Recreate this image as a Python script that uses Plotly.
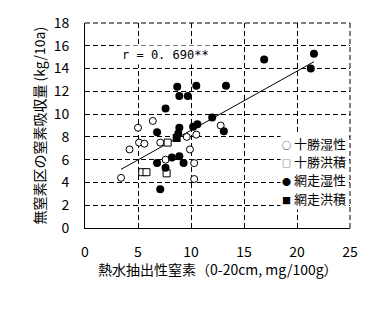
import plotly.graph_objects as go

# 十勝湿性 (open circles)
tk_wet_x = [3.4, 4.2, 5.0, 5.1, 5.6, 6.4, 7.1, 7.6, 9.6, 9.9, 10.3, 10.3, 10.5, 12.8]
tk_wet_y = [4.4, 6.9, 8.8, 7.5, 7.4, 9.4, 7.5, 6.0, 8.0, 6.9, 5.7, 4.3, 8.2, 9.0]
# 十勝洪積 (open squares)
tk_dil_x = [5.4, 5.8, 7.7, 7.8]
tk_dil_y = [4.9, 4.9, 4.8, 7.5]
# 網走湿性 (filled circles)
ab_wet_x = [7.1, 6.8, 7.6, 8.2, 8.9, 9.3, 6.8, 7.6, 8.9, 8.8, 10.2, 10.6, 12.0, 13.1,
            8.7, 8.9, 9.7, 10.5, 13.3, 16.9, 21.6, 21.3]
ab_wet_y = [3.4, 5.7, 5.3, 6.2, 6.3, 5.7, 8.4, 10.5, 8.8, 8.3, 8.9, 9.1, 9.7, 8.5,
            12.4, 11.6, 11.6, 12.5, 12.5, 14.8, 15.3, 14.0]
# 網走洪積 (filled squares)
ab_dil_x = [8.65]
ab_dil_y = [7.9]
# regression line end points
line_x = [3.4, 21.6]
line_y = [5.15, 14.6]

x_ticks = [0, 5, 10, 15, 20, 25]
y_ticks = [0, 2, 4, 6, 8, 10, 12, 14, 16, 18]

FONT = "Noto Sans CJK JP"

fig = go.Figure()
fig.add_trace(go.Scatter(x=line_x, y=line_y, mode="lines",
                         line=dict(color="black", width=1), showlegend=False))
fig.add_trace(go.Scatter(x=tk_wet_x, y=tk_wet_y, mode="markers", name="十勝湿性",
                         marker=dict(symbol="circle", size=7, color="white",
                                     line=dict(color="black", width=1))))
fig.add_trace(go.Scatter(x=tk_dil_x, y=tk_dil_y, mode="markers", name="十勝洪積",
                         marker=dict(symbol="square", size=7, color="white",
                                     line=dict(color="black", width=1))))
fig.add_trace(go.Scatter(x=ab_wet_x, y=ab_wet_y, mode="markers", name="網走湿性",
                         marker=dict(symbol="circle", size=8, color="black",
                                     line=dict(color="black", width=0))))
fig.add_trace(go.Scatter(x=ab_dil_x, y=ab_dil_y, mode="markers", name="網走洪積",
                         marker=dict(symbol="square", size=8, color="black",
                                     line=dict(color="black", width=0))))

# legend as text
legend_sym = ["○", "□", "●", "■"]
legend_names = ["十勝湿性", "十勝洪積", "網走湿性", "網走洪積"]
legend_y = [7.45, 5.83, 4.22, 2.61]
for s, t, yy in zip(legend_sym, legend_names, legend_y):
    fig.add_annotation(x=18.4, y=yy, xref="x", yref="y",
                       text="<span style='font-size:9px'>" + s + "</span> " + t,
                       showarrow=False,
                       xanchor="left", yanchor="middle", bgcolor="white", borderpad=1,
                       font=dict(family=FONT, size=13, color="black"))

fig.add_annotation(x=7.6, y=15.2, xref="x", yref="y", text="r = 0. 690**", showarrow=False,
                   xanchor="center", yanchor="middle", bgcolor="white", borderpad=2,
                   font=dict(family="DejaVu Sans Mono", size=12, color="black"))

# axis titles
fig.add_annotation(x=-0.177, y=0.5, xref="paper", yref="paper",
                   text="無窒素区の窒素吸収量 (kg/10a)", textangle=-90, showarrow=False,
                   xanchor="center", yanchor="middle",
                   font=dict(family=FONT, size=14, color="black"))
fig.add_annotation(x=0.5, y=-0.198, xref="paper", yref="paper",
                   text="熱水抽出性窒素（0-20cm, mg/100g）", showarrow=False,
                   xanchor="center", yanchor="middle",
                   font=dict(family=FONT, size=14, color="black"))

# dashed top and right borders
fig.add_shape(type="line", xref="paper", yref="paper", x0=0, x1=1, y0=1, y1=1,
              line=dict(color="black", width=1, dash="5px,3px"))
fig.add_shape(type="line", xref="paper", yref="paper", x0=1, x1=1, y0=0, y1=1,
              line=dict(color="black", width=1, dash="5px,3px"))

fig.update_layout(
    width=372, height=329,
    margin=dict(l=85, r=22, t=23, b=101),
    paper_bgcolor="white", plot_bgcolor="white",
    showlegend=False,
    font=dict(family=FONT, size=13, color="black"),
    xaxis=dict(range=[0, 25], tickvals=x_ticks, showgrid=True, gridcolor="black",
               griddash="5px,3px", gridwidth=1, showline=True, linecolor="black",
               linewidth=1, ticks="inside", ticklen=5, tickcolor="black",
               zeroline=False, ticklabelstandoff=11,
               tickfont=dict(family=FONT, size=14)),
    yaxis=dict(range=[0, 18], tickvals=y_ticks, showgrid=True, gridcolor="black",
               griddash="5px,3px", gridwidth=1, showline=True, linecolor="black",
               linewidth=1, ticks="inside", ticklen=5, tickcolor="black",
               zeroline=False, ticklabelstandoff=12,
               tickfont=dict(family=FONT, size=14)),
)

fig.write_html("out.html")
